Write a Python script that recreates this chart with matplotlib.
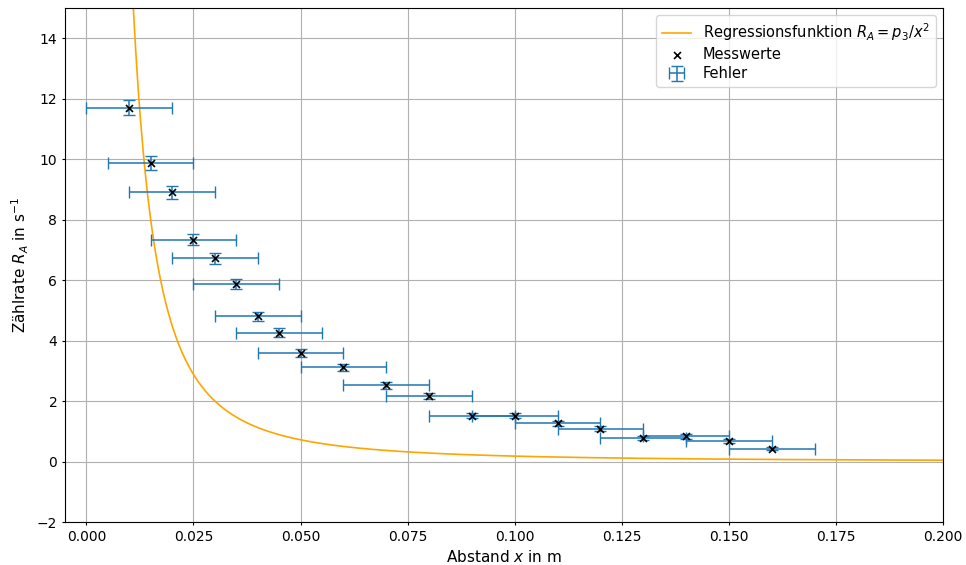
import numpy as np
import matplotlib
matplotlib.use("Agg")
import matplotlib.pyplot as plt

plt.rcParams['font.size'] = 10.5
plt.rcParams['xtick.labelsize'] = 10
plt.rcParams['ytick.labelsize'] = 10
plt.rcParams['xtick.major.size'] = 2
plt.rcParams['ytick.major.size'] = 2

# Messdaten
abstand = [0.010, 0.015, 0.020, 0.025, 0.030, 0.035, 0.040, 0.045, 0.050,
           0.060, 0.070, 0.080, 0.090, 0.100, 0.110, 0.120, 0.130, 0.140,
           0.150, 0.160]
rate = [11.70, 9.88, 8.90, 7.34, 6.72, 5.86, 4.80, 4.26, 3.60,
        3.12, 2.52, 2.16, 1.52, 1.52, 1.27, 1.09, 0.77, 0.83,
        0.67, 0.43]
rate_err = [0.25, 0.23, 0.21, 0.19, 0.18, 0.17, 0.15, 0.14, 0.13,
            0.12, 0.11, 0.10, 0.09, 0.09, 0.08, 0.08, 0.07, 0.07,
            0.06, 0.05]
abstand_err = 0.01
p3 = 0.0018

fig = plt.figure(figsize=(9.66, 5.65), dpi=100)
ax = fig.add_axes([0.0673, 0.076, 0.9089, 0.910])

x = np.linspace(0.005, 0.2, 1000)
ax.plot(x, p3 / x**2, color="orange", lw=1.2,
        label=r"Regressionsfunktion $R_A = p_3/x^2$", zorder=2)
ax.scatter(abstand, rate, marker="x", color="black", s=25, linewidths=1.2,
           label="Messwerte", zorder=3)
ax.errorbar(abstand, rate, xerr=abstand_err, yerr=rate_err, fmt="none",
            capsize=4, capthick=1, elinewidth=1.1, label="Fehler", zorder=2)

ax.set_xlim(-0.005, 0.2)
ax.set_ylim(-2, 15)
ax.set_xlabel(r"Abstand $x$ in m", fontsize=11)
ax.set_ylabel(r"Zählrate $R_A$ in s$^{-1}$", fontsize=11)
ax.grid(True)
ax.set_axisbelow(True)
ax.legend(loc="upper right", labelspacing=0.3)

fig.savefig("out.png")
